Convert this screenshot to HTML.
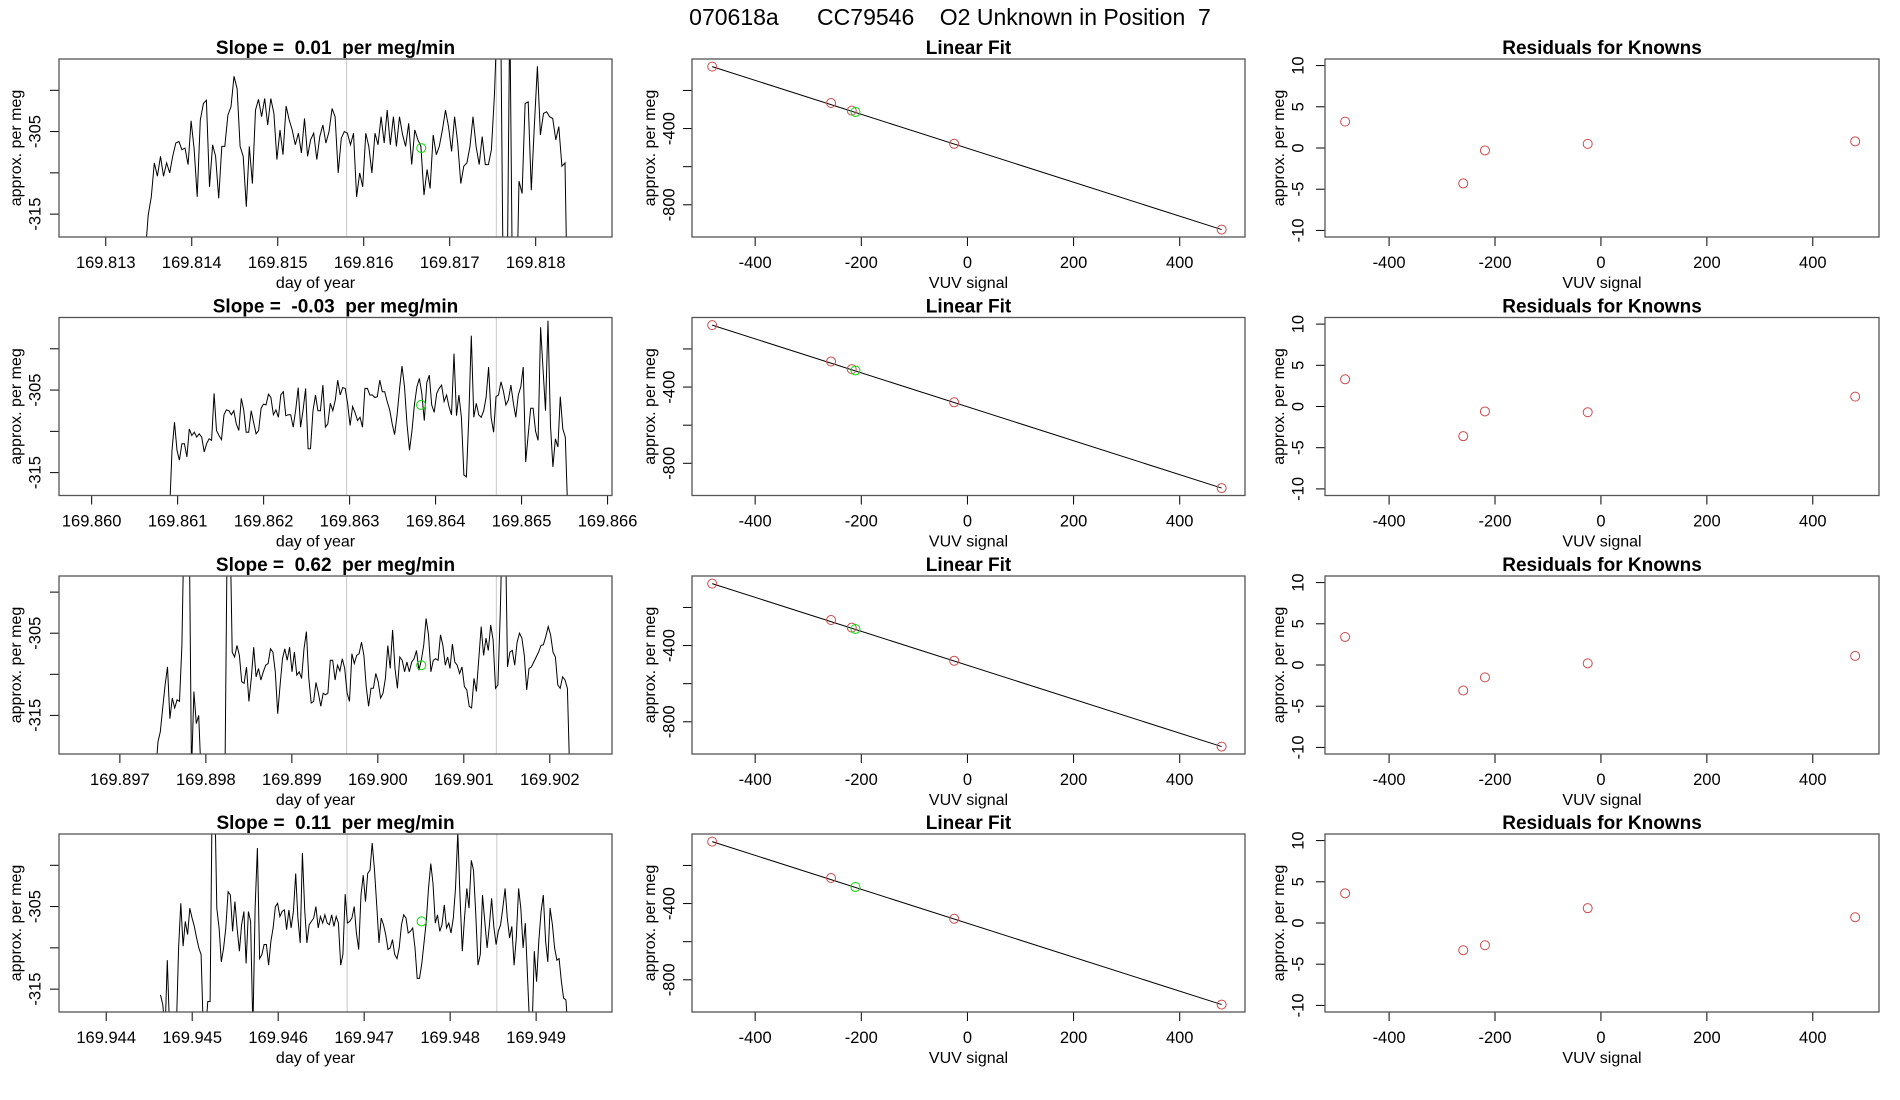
<!DOCTYPE html>
<html><head><meta charset="utf-8">
<style>
html,body{margin:0;padding:0;background:#fff;}
svg{display:block;font-family:"Liberation Sans",Arial,sans-serif;}
svg text{white-space:pre;}
</style></head>
<body>
<svg id="fig" width="1900" height="1100" viewBox="0 0 1900 1100" xmlns="http://www.w3.org/2000/svg">
<text x="950" y="25" font-size="23" text-anchor="middle" fill="#000">070618a      CC79546    O2 Unknown in Position  7</text>
</svg>
<script>
// ---------- DATA ----------
const slopeLabels = ["0.01", "-0.03", "0.62", "0.11"];
const seriesStart = [169.813458, 169.860848, 169.897415, 169.944632];
const seriesEnd = [169.818376, 169.865537, 169.902232, 169.949372];
const xMin = [169.812456, 169.859620, 169.896292, 169.943451];
const xTicks = [
  [169.813,169.814,169.815,169.816,169.817,169.818],
  [169.860,169.861,169.862,169.863,169.864,169.865,169.866],
  [169.897,169.898,169.899,169.900,169.901,169.902],
  [169.944,169.945,169.946,169.947,169.948,169.949]
];
const yLimLow = [-317.77, -317.77, -319.70, -317.77];
const yLimHigh = [-296.21, -296.21, -298.04, -296.21];
const grayLines = [
  [169.815801,169.817542],[169.862965,169.864706],[169.899637,169.901378],[169.946802,169.948543]
];
const greenTime = [169.816669, 169.863831, 169.900505, 169.947668];
const greenValue = [-307.0, -306.8, -308.9, -306.8];

const series1 = [-320,-315.1,-312.9,-308.8,-310.4,-308.0,-310.4,-308.8,-310.0,-308.0,-306.4,-306.2,-307.2,-307.0,-309.0,-303.7,-307.2,-312.9,-303.6,-301.6,-301.2,-311.7,-306.6,-308.0,-313.1,-306.8,-306.8,-303.0,-302.0,-298.3,-299.8,-306.8,-308.0,-314.1,-306.8,-311.3,-302.4,-301.1,-303.2,-301.0,-304.2,-301.0,-302.8,-308.4,-304.8,-307.8,-301.9,-303.6,-304.8,-306.6,-305.2,-307.6,-303.4,-308.0,-306.0,-305.2,-308.4,-305.6,-304.2,-306.4,-305.0,-302.2,-303.2,-310.0,-305.8,-305.0,-305.2,-306.6,-305.2,-312.9,-310.0,-311.7,-305.2,-306.8,-310.0,-305.2,-306.6,-303.2,-306.4,-302.4,-306.6,-303.2,-306.8,-303.2,-305.4,-306.8,-304.0,-309.0,-304.8,-306.0,-306.8,-312.7,-309.6,-311.9,-305.4,-307.8,-306.8,-304.8,-302.4,-304.4,-307.4,-303.2,-306.4,-311.3,-309.2,-308.8,-306.8,-303.2,-306.8,-309.0,-305.6,-309.0,-309.0,-307.2,-300.4,-290,-290,-330,-330,-290,-330,-330,-311.0,-312.5,-301.6,-301.4,-312.1,-304.4,-297.1,-305.4,-302.8,-302.6,-303.2,-303.4,-306.0,-304.4,-309.2,-308.8,-330];
const series2 = [-320,-320,-320,-312.3,-308.9,-312.3,-313.5,-311.5,-311.5,-313.1,-309.7,-310.5,-310.1,-310.7,-310.3,-310.7,-312.5,-311.5,-310.9,-311.1,-305.4,-309.9,-310.5,-311.0,-308.0,-307.4,-307.5,-308.0,-307.5,-309.1,-309.9,-306.0,-307.4,-310.1,-310.1,-307.5,-308.9,-310.3,-309.9,-307.2,-306.7,-306.8,-305.5,-305.9,-308.0,-307.4,-308.3,-305.6,-305.2,-308.1,-308.0,-308.0,-309.5,-307.4,-304.7,-309.5,-307.4,-304.8,-312.1,-312.1,-307.5,-305.6,-307.5,-307.5,-304.4,-309.5,-309.1,-306.6,-307.5,-306.2,-303.8,-305.6,-304.7,-304.8,-306.6,-309.3,-307.0,-307.7,-308.7,-308.3,-309.5,-304.8,-304.8,-305.6,-305.6,-305.9,-305.8,-303.8,-305.2,-305.2,-306.4,-307.4,-309.1,-310.4,-308.0,-304.8,-302.1,-304.6,-309.1,-312.3,-310.0,-306.8,-304.6,-303.6,-305.4,-308.7,-304.1,-303.2,-306.8,-307.7,-305.4,-304.8,-304.4,-306.4,-305.6,-307.0,-308.0,-300.6,-308.1,-305.6,-308.3,-315.3,-315.5,-308.3,-298.4,-308.3,-306.6,-308.0,-308.3,-307.5,-305.9,-302.2,-308.3,-310.1,-305.8,-305.6,-304.0,-305.2,-306.8,-306.2,-304.4,-306.6,-308.3,-305.6,-304.6,-302.2,-313.7,-310.4,-307.2,-307.2,-310.0,-311.1,-297.4,-302.4,-307.5,-296.6,-309.3,-314.3,-310.9,-311.9,-305.8,-309.7,-310.7,-320];
const series3 = [-322,-318.2,-317.0,-314.1,-311.3,-309.1,-315.4,-312.9,-314.1,-313.1,-313.3,-306.5,-290,-290,-290,-322,-312.1,-316.0,-315.0,-322,-322,-322,-322,-322,-322,-322,-322,-322,-322,-322,-290,-290,-307.3,-307.9,-306.5,-307.7,-310.9,-311.1,-309.1,-313.3,-310.5,-306.7,-310.3,-309.3,-310.7,-309.7,-308.9,-308.7,-306.9,-307.3,-309.7,-314.8,-311.3,-308.1,-306.9,-308.3,-306.7,-309.7,-307.3,-310.1,-309.7,-310.5,-306.9,-304.8,-310.5,-313.5,-313.3,-311.0,-312.3,-313.9,-312.3,-312.5,-312.3,-308.3,-308.3,-310.7,-308.9,-309.6,-308.1,-309.3,-312.3,-313.3,-307.5,-308.7,-307.7,-307.5,-306.1,-307.7,-311.5,-313.9,-311.7,-311.7,-309.9,-310.9,-312.9,-312.3,-310.5,-306.5,-309.3,-304.6,-309.3,-311.7,-307.9,-308.3,-309.7,-308.5,-309.7,-308.5,-308.1,-307.1,-309.5,-308.3,-306.5,-303.2,-305.2,-309.7,-308.3,-308.1,-308.3,-305.2,-306.5,-308.9,-307.9,-309.3,-306.3,-308.5,-308.9,-309.9,-309.1,-311.5,-311.9,-313.9,-314.1,-310.5,-312.1,-308.1,-304.2,-307.7,-305.6,-307.1,-304.0,-305.8,-311.7,-311.3,-302.4,-290,-290,-309.1,-307.3,-307.1,-308.9,-306.1,-305.0,-305.6,-307.7,-311.9,-309.3,-309.1,-308.5,-307.9,-307.3,-306.5,-306.4,-305.4,-304.2,-305.2,-307.3,-307.9,-311.3,-311.7,-310.3,-310.7,-311.7,-322];
const series4 = [-315.7,-316.9,-320,-311.5,-320,-320,-320,-320,-310.0,-304.6,-309.8,-306.8,-308.4,-305.2,-306.4,-307.4,-308.8,-310.0,-310.8,-320,-320,-316.5,-316.5,-290,-290,-305.2,-307.6,-311.7,-310.0,-307.6,-303.2,-303.6,-308.0,-304.4,-307.6,-310.4,-307.2,-305.6,-311.9,-305.6,-306.8,-320,-305.2,-297.9,-311.3,-310.8,-309.6,-309.6,-312.1,-309.2,-307.6,-305.0,-304.6,-306.2,-305.6,-305.4,-307.8,-305.4,-307.6,-305.6,-301.0,-306.4,-309.4,-298.5,-305.4,-309.4,-307.2,-306.8,-306.4,-305.0,-307.6,-306.2,-307.0,-306.0,-307.0,-307.2,-306.0,-307.4,-306.2,-307.0,-312.1,-310.8,-303.5,-307.0,-306.8,-306.4,-305.0,-308.2,-310.2,-303.6,-301.2,-304.4,-301.0,-300.6,-297.3,-300.6,-304.8,-309.4,-306.4,-307.2,-308.4,-310.2,-310.0,-309.0,-310.8,-311.3,-310.0,-307.2,-306.0,-306.4,-308.2,-308.0,-307.6,-310.0,-313.7,-313.7,-311.9,-309.4,-306.8,-302.8,-299.8,-302.2,-307.0,-306.0,-308.0,-307.2,-304.8,-307.6,-307.0,-308.2,-306.4,-302.8,-296,-303.8,-310.4,-306.4,-302.8,-305.2,-299.4,-300.6,-306.0,-312.1,-310.8,-303.6,-306.8,-310.0,-307.4,-304.0,-307.4,-309.6,-308.0,-307.2,-305.2,-302.8,-306.4,-308.8,-307.4,-312.1,-308.8,-302.8,-305.2,-310.0,-307.0,-313.7,-320,-320,-310.4,-314.1,-309.2,-305.6,-303.6,-309.2,-311.7,-305.2,-307.2,-310.0,-311.5,-311.3,-314.1,-316.1,-316.3,-320];
const seriesList = [series1, series2, series3, series4];

// Linear fit panel data
const fitX = [-481, -257, -218, -25, 479];
const fitY = [-75, -266, -306, -480, -930];
const fitShowThird = [true, true, true, false];
const unknownX = [-211, -211, -211, -211];
const unknownY = [-313, -313, -313, -313];
const fitXTicks = [-400, -200, 0, 200, 400];
const fitYTicks = [-200, -400, -600, -800];
const fitYLabels = [-400, -800];

// Residuals panel data
const resX = [-483, -260, -219, -25, 480];
const residualsRow1 = [3.2, -4.3, -0.3, 0.5, 0.8];
const residualsRow2 = [3.3, -3.6, -0.6, -0.7, 1.2];
const residualsRow3 = [3.4, -3.1, -1.5, 0.2, 1.1];
const residualsRow4 = [3.6, -3.3, -2.7, 1.8, 0.7];
const residualsList = [residualsRow1, residualsRow2, residualsRow3, residualsRow4];
const resYTicks = [-10, -5, 0, 5, 10];

// ---------- LAYOUT ----------
const NS = "http://www.w3.org/2000/svg";
const svg = document.getElementById("fig");
const cols = [[59, 612], [692, 1245], [1325, 1879]];
const rowTop = [59, 317.5, 576, 834];
const PH = 178;
const TICKFS = 16.5, AXFS = 16, TITLEFS = 19;

function mk(tag, attrs, parent) {
  const e = document.createElementNS(NS, tag);
  for (const k in attrs) e.setAttribute(k, attrs[k]);
  (parent || svg).appendChild(e);
  return e;
}
function txt(s, x, y, size, opts, parent) {
  const e = mk("text", Object.assign({x: x, y: y, "font-size": size, fill: "#000", "text-anchor": "middle"}, opts || {}), parent);
  e.textContent = s;
  return e;
}
function scale(d0, d1, p0, p1) { return v => p0 + (v - d0) / (d1 - d0) * (p1 - p0); }

function frame(g, x0, x1, y0, y1) {
  const r = mk("rect", {x: x0, y: y0, width: x1 - x0, height: y1 - y0, fill: "none", stroke: "#555", "stroke-width": 1.3}, g);
  
  
}
function xAxis(g, ticks, sx, y1, fmt, label) {
  const ax = mk("g", {}, g);
  
  
  mk("line", {x1: sx(ticks[0]), x2: sx(ticks[ticks.length - 1]), y1: y1, y2: y1, stroke: "#000", "stroke-width": 1}, ax);
  ticks.forEach(t => {
    const X = sx(t);
    mk("line", {x1: X, x2: X, y1: y1, y2: y1 + 9, stroke: "#000", "stroke-width": 1}, ax);
    const tl = txt(fmt(t), X, y1 + 31, TICKFS, {}, ax);
    
    
  });
  const lab = txt(label, null, y1 + 51, AXFS, {}, ax);
  
  
  return lab;
}
function yAxis(g, ticks, labels, sy, x0, labX, titleX, yc, fmt) {
  const ax = mk("g", {}, g);
  
  
  mk("line", {x1: x0, x2: x0, y1: sy(ticks[0]), y2: sy(ticks[ticks.length - 1]), stroke: "#000", "stroke-width": 1}, ax);
  ticks.forEach(t => {
    const Y = sy(t);
    mk("line", {x1: x0 - 9, x2: x0, y1: Y, y2: Y, stroke: "#000", "stroke-width": 1}, ax);
  });
  labels.forEach(t => {
    const Y = sy(t);
    const tl = txt(fmt(t), labX, Y, TICKFS, {transform: "rotate(-90 " + labX + " " + Y + ")", "dominant-baseline": "middle"}, ax);
    
    
  });
  const tt = txt("approx. per meg", titleX, yc, AXFS, {transform: "rotate(-90 " + titleX + " " + yc + ")", "dominant-baseline": "middle"}, ax);
  
  
}
function circle(g, cx, cy, color, name) {
  const c = mk("circle", {cx: cx, cy: cy, r: 4.5, fill: "none", stroke: color, "stroke-width": 1}, g);
  
  
}

for (let r = 0; r < 4; r++) {
  const y0 = rowTop[r], y1 = y0 + PH, yc = (y0 + y1) / 2;

  // ----- time series panel -----
  {
    const [x0, x1] = cols[0];
    const g = mk("g", {});
    
    
    const span = 553.1 / 86000;
    const sx = scale(xMin[r], xMin[r] + span, x0, x1);
    const sy = scale(yLimLow[r], yLimHigh[r], y1, y0);
    const title = txt("Slope =  " + slopeLabels[r] + "  per meg/min", (x0 + x1) / 2, y0 - 5, TITLEFS, {"font-weight": "bold"}, g);
    
    
    const clipId = "clip" + r;
    const cp = mk("clipPath", {id: clipId}, g);
    mk("rect", {x: x0, y: y0, width: x1 - x0, height: PH}, cp);
    grayLines[r].forEach(t => {
      const l = mk("line", {x1: sx(t), x2: sx(t), y1: y0, y2: y1, stroke: "#c8c8c8", "stroke-width": 1}, g);
      
      
    });
    const data = seriesList[r];
    const dt = (seriesEnd[r] - seriesStart[r]) / (data.length - 1);
    const pts = data.map((v, i) => sx(seriesStart[r] + i * dt).toFixed(1) + "," + sy(v).toFixed(1)).join(" ");
    const pl = mk("polyline", {points: pts, fill: "none", stroke: "#000", "stroke-width": 1, "clip-path": "url(#" + clipId + ")"}, g);
    
    
    circle(g, sx(greenTime[r]), sy(greenValue[r]), "#00dd00", "unknown-mean-point");
    const bottomTicks = [-300, -305, -310, -315].filter(t => t >= yLimLow[r] && t <= yLimHigh[r]);
    yAxis(g, bottomTicks, [-305, -315], sy, x0, 36, 17, yc, t => String(t));
    const lab = xAxis(g, xTicks[r], sx, y1, t => t.toFixed(3), "day of year");
    lab.setAttribute("x", (x0 + x1) / 2 - 20);
    frame(g, x0, x1, y0, y1);
  }

  // ----- linear fit panel -----
  {
    const [x0, x1] = cols[1];
    const g = mk("g", {});
    
    
    const sx = scale(-519, 523, x0, x1);
    const sy = scale(-969, -35, y1, y0);
    const title = txt("Linear Fit", (x0 + x1) / 2, y0 - 5, TITLEFS, {"font-weight": "bold"}, g);
    
    
    const fl = mk("line", {x1: sx(fitX[0]), y1: sy(fitY[0]), x2: sx(fitX[4]), y2: sy(fitY[4]), stroke: "#000", "stroke-width": 1}, g);
    
    
    fitX.forEach((v, i) => {
      if (i === 2 && !fitShowThird[r]) return;
      circle(g, sx(v), sy(fitY[i]), "#cd4a4a", "known-standard-point");
    });
    circle(g, sx(unknownX[r]), sy(unknownY[r]), "#00dd00", "unknown-point");
    yAxis(g, fitYTicks, fitYLabels, sy, x0, 670, 651, yc, t => String(t));
    const lab = xAxis(g, fitXTicks, sx, y1, t => String(t), "VUV signal");
    lab.setAttribute("x", (x0 + x1) / 2);
    frame(g, x0, x1, y0, y1);
  }

  // ----- residuals panel -----
  {
    const [x0, x1] = cols[2];
    const g = mk("g", {});
    
    
    const sx = scale(-521, 525, x0, x1);
    const sy = scale(-10.8, 10.8, y1, y0);
    const title = txt("Residuals for Knowns", (x0 + x1) / 2, y0 - 5, TITLEFS, {"font-weight": "bold"}, g);
    
    
    resX.forEach((v, i) => circle(g, sx(v), sy(residualsList[r][i]), "#cd4a4a", "residual-point"));
    yAxis(g, resYTicks, resYTicks, sy, x0, 1299, 1280, yc, t => String(t));
    const lab = xAxis(g, fitXTicks, sx, y1, t => String(t), "VUV signal");
    lab.setAttribute("x", (x0 + x1) / 2);
    frame(g, x0, x1, y0, y1);
  }
}
</script>
</body></html>
